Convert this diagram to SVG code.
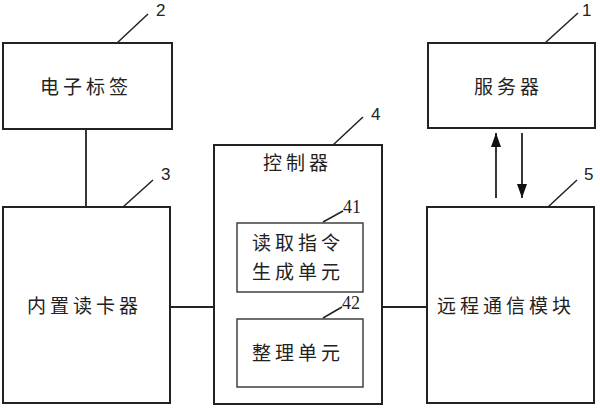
<svg xmlns="http://www.w3.org/2000/svg" width="600" height="409" viewBox="0 0 600 409">
<defs>
<style>
.box{fill:#fff;stroke:#222;stroke-width:2}
.sub{fill:#fff;stroke:#333;stroke-width:1.4}
.ln{stroke:#222;stroke-width:1.8;fill:none}
.ld{stroke:#222;stroke-width:1.5;fill:none}
.t{font-family:"Noto Sans CJK SC","Noto Sans",sans-serif;font-size:19px;fill:#222;letter-spacing:4px}
.n{font-family:"Liberation Sans",sans-serif;font-size:17px;fill:#222}
.m{font-family:"Liberation Serif",serif;font-size:18px;fill:#222}
</style>
<marker id="ah" markerWidth="14" markerHeight="10" refX="14" refY="5" orient="auto" markerUnits="userSpaceOnUse" viewBox="0 0 14 10">
<path d="M0,0 L14,5 L0,10 Z" fill="#111"/>
</marker>
</defs>
<g id="connectors">
<line class="ln" x1="86" y1="129" x2="86" y2="207"/>
<line class="ln" x1="170" y1="307" x2="214" y2="307"/>
<line class="ln" x1="382" y1="307" x2="427" y2="307"/>
<line class="ln" x1="496" y1="198" x2="496" y2="133" marker-end="url(#ah)"/>
<line class="ln" x1="522" y1="133" x2="522" y2="198" marker-end="url(#ah)"/>
</g>
<g id="n2">
<rect class="box" x="3" y="43" width="169" height="86"/>
<text class="t" x="40" y="94">电子标签</text>
<line class="ld" x1="117" y1="43" x2="148" y2="14"/>
<text class="n" x="156" y="16">2</text>
</g>
<g id="n1">
<rect class="box" x="428" y="43" width="167" height="85"/>
<text class="t" x="474" y="94">服务器</text>
<line class="ld" x1="545" y1="43" x2="578" y2="13"/>
<text class="n" x="582" y="16">1</text>
</g>
<g id="n3">
<rect class="box" x="3" y="207" width="167" height="196"/>
<text class="t" x="27" y="313">内置读卡器</text>
<line class="ld" x1="123" y1="207" x2="153" y2="180"/>
<text class="n" x="161" y="180">3</text>
</g>
<g id="n4">
<rect class="box" x="214" y="145" width="168" height="259"/>
<text class="t" x="263" y="170">控制器</text>
<line class="ld" x1="333" y1="145" x2="363" y2="117"/>
<text class="n" x="371" y="120">4</text>
</g>
<g id="n41">
<rect class="sub" x="237" y="223" width="126" height="69"/>
<text class="t" x="252" y="250">读取指令</text>
<text class="t" x="252" y="279">生成单元</text>
<line class="ld" x1="323" y1="222" x2="343" y2="211"/>
<text class="m" x="343" y="213">41</text>
</g>
<g id="n42">
<rect class="sub" x="237" y="319" width="126" height="68"/>
<text class="t" x="252" y="360">整理单元</text>
<line class="ld" x1="323" y1="318" x2="342" y2="307"/>
<text class="m" x="342" y="309">42</text>
</g>
<g id="n5">
<rect class="box" x="427" y="207" width="167" height="196"/>
<text class="t" x="437" y="313">远程通信模块</text>
<line class="ld" x1="548" y1="207" x2="577" y2="180"/>
<text class="n" x="584" y="180">5</text>
</g>
</svg>
